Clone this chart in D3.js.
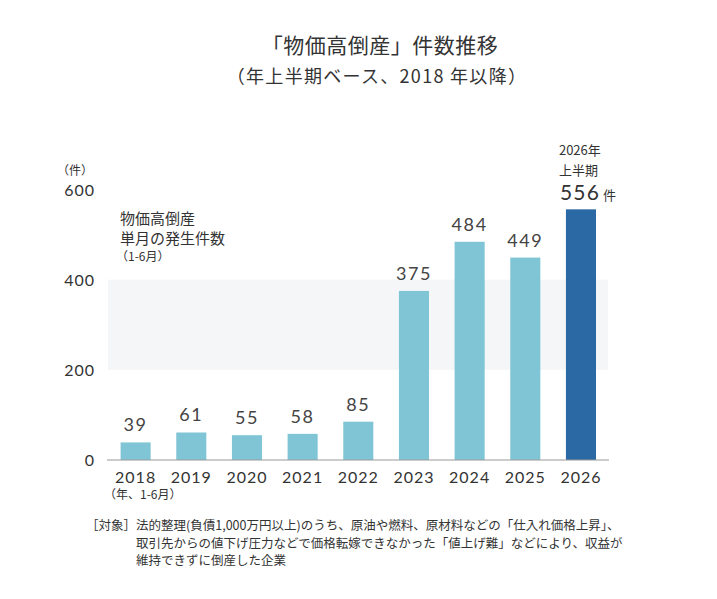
<!DOCTYPE html>
<html><head><meta charset="utf-8">
<script src="https://cdn.jsdelivr.net/npm/d3@7"></script>
<style>body{margin:0;background:#fff}svg{font-family:"Noto Sans CJK JP","Noto Sans",sans-serif}</style>
</head><body>
<svg id="c" width="717" height="599"></svg>
<script>
const years = ["2018","2019","2020","2021","2022","2023","2024","2025","2026"];
const counts = [39,61,55,58,85,375,484,449,556];
const yTicks = [0,200,400,600];
const titleLines = ["「物価高倒産」件数推移","（年上半期ベース、2018 年以降）"];
const noteLines = ["法的整理(負債1,000万円以上)のうち、原油や燃料、原材料などの「仕入れ価格上昇」、",
  "取引先からの値下げ圧力などで価格転嫁できなかった「値上げ難」などにより、収益が",
  "維持できずに倒産した企業"];

const svg = d3.select("#c");
const x = d3.scaleBand().domain(years).range([107.8,608.8]).paddingInner(0.46).paddingOuter(0.23);
const y = d3.scaleLinear().domain([0,600]).range([460,189.5]);
const light = "#80c5d5", dark = "#2b69a5";
const numFont = "Lato, 'Noto Sans', sans-serif";

// title
svg.append("text").attr("x",380).attr("y",53).attr("text-anchor","middle")
  .attr("font-size",21).attr("fill","#333").attr("letter-spacing",0.5).text(titleLines[0]);
svg.append("text").attr("x",377).attr("y",83).attr("text-anchor","middle")
  .attr("font-size",18).attr("fill","#333").attr("letter-spacing",1.3).text(titleLines[1]);

// band
svg.append("rect").attr("x",108).attr("y",y(400)).attr("width",500).attr("height",y(200)-y(400))
  .attr("fill","#f4f6f8");

// bars
svg.selectAll("rect.bar").data(counts).join("rect").attr("class","bar")
  .attr("x",(d,i)=>x(years[i])).attr("width",x.bandwidth())
  .attr("y",d=>y(d)).attr("height",d=>y(0)-y(d))
  .attr("fill",(d,i)=>i===years.length-1?dark:light);

// value labels (except last)
svg.selectAll("text.val").data(counts.slice(0,-1)).join("text").attr("class","val")
  .attr("x",(d,i)=>x(years[i])+x.bandwidth()/2).attr("y",d=>y(d)-11)
  .attr("text-anchor","middle").attr("font-size",18).attr("font-family",numFont)
  .attr("letter-spacing",1.6).attr("fill","#444").text(d=>d);

// last bar annotation
const lx = x(years[8]) - 5;
svg.append("text").attr("x",lx-2).attr("y",155).attr("font-size",13).attr("fill","#333").text("2026年");
svg.append("text").attr("x",lx-2).attr("y",174.5).attr("font-size",13).attr("fill","#333").text("上半期");
const t = svg.append("text").attr("x",lx-1).attr("y",200).attr("fill","#333");
t.append("tspan").attr("font-size",21).attr("font-family",numFont).attr("letter-spacing",1.2).text(counts[8]);
t.append("tspan").attr("font-size",13).attr("dx",3).text("件");

// axis line
svg.append("line").attr("x1",107).attr("x2",609).attr("y1",y(0)).attr("y2",y(0))
  .attr("stroke","#999").attr("stroke-width",1.2);

// y ticks
svg.selectAll("text.yt").data(yTicks).join("text").attr("class","yt")
  .attr("x",95).attr("y",d=>y(d)+6).attr("text-anchor","end")
  .attr("font-size",16).attr("font-family",numFont).attr("letter-spacing",1).attr("fill","#333").text(d=>d);
svg.append("text").attr("x",57).attr("y",175).attr("font-size",12).attr("fill","#333").text("（件）");

// x labels
svg.selectAll("text.xt").data(years).join("text").attr("class","xt")
  .attr("x",d=>x(d)+x.bandwidth()/2).attr("y",483).attr("text-anchor","middle")
  .attr("font-size",16).attr("font-family",numFont).attr("letter-spacing",1).attr("fill","#333").text(d=>d);
svg.append("text").attr("x",104).attr("y",499).attr("font-size",12).attr("fill","#333").text("（年、1-6月）");

// inner annotation
svg.append("text").attr("x",120).attr("y",224).attr("font-size",15).attr("fill","#333").text("物価高倒産");
svg.append("text").attr("x",120).attr("y",244).attr("font-size",15).attr("fill","#333").text("単月の発生件数");
svg.append("text").attr("x",116).attr("y",261).attr("font-size",12).attr("fill","#333").text("（1-6月）");

// footnote
svg.append("text").attr("x",86).attr("y",530).attr("font-size",12.5).attr("fill","#333").text("［対象］");
noteLines.forEach((l,i)=>{
  svg.append("text").attr("x",136).attr("y",530+i*17.5).attr("font-size",12.5).attr("fill","#333").text(l);
});
</script>
</body></html>
